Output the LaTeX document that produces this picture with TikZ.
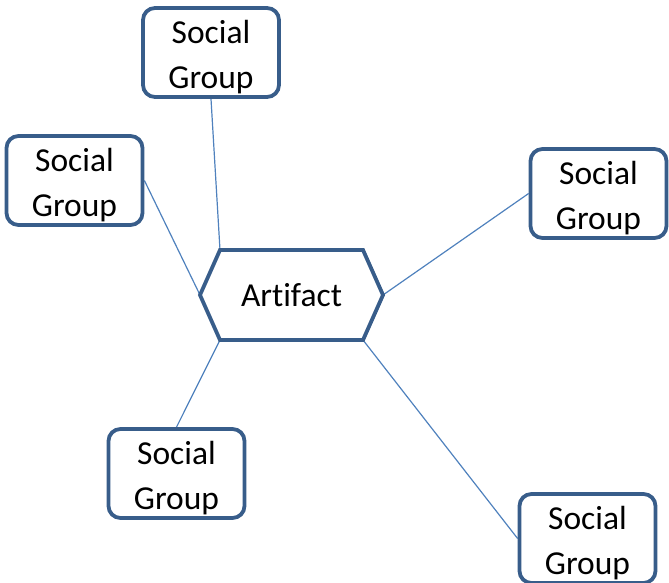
\documentclass[tikz,border=0pt]{standalone}
\usepackage{fontspec}
\setmainfont{Carlito}[Ligatures={NoCommon}]
\usetikzlibrary{backgrounds}
\definecolor{edgeblue}{HTML}{385D8A}
\definecolor{linkblue}{HTML}{4F81BD}
\begin{document}
\begin{tikzpicture}[x=1pt,y=-1pt,
  grouptext/.style={align=center, font=\fontsize{33.5}{45}\selectfont, inner sep=0pt},
  groupbox/.style={draw=edgeblue, line width=3.8pt, rounded corners=12pt, fill=white,
    minimum width=136pt, minimum height=89pt, inner sep=0pt,
    label={[grouptext, yshift=-5pt]center:Social\\Group}},
  link/.style={draw=linkblue, line width=1.2pt}]
\useasboundingbox (0,0) rectangle (669,583);

% artifact hexagon corners
\coordinate (hW) at (200,295);
\coordinate (hNW) at (220,250);
\coordinate (hNE) at (363,250);
\coordinate (hE) at (383,295);
\coordinate (hSE) at (363,340);
\coordinate (hSW) at (220,340);
\draw[draw=edgeblue, line width=3.8pt, fill=white, line join=miter]
  (hW) -- (hNW) -- (hNE) -- (hE) -- (hSE) -- (hSW) -- cycle;
\node[grouptext] (art) at (291.5,295) {Artifact};

% social group boxes
\node[groupbox] (gTop) at (211,52.5) {};
\node[groupbox] (gLeft) at (74.5,180.5) {};
\node[groupbox] (gRight) at (598.5,193.5) {};
\node[groupbox] (gBL) at (176.5,473.5) {};
\node[groupbox] (gBR) at (587.5,538.5) {};

% connectors behind the shapes
\begin{scope}[on background layer]
\draw[link] (gTop.south) -- (hNW);
\draw[link] (gLeft.east) -- (hW);
\draw[link] (gRight.west) -- (hE);
\draw[link] (gBL.north) -- (hSW);
\draw[link] (gBR.west) -- (hSE);
\end{scope}
\end{tikzpicture}
\end{document}
